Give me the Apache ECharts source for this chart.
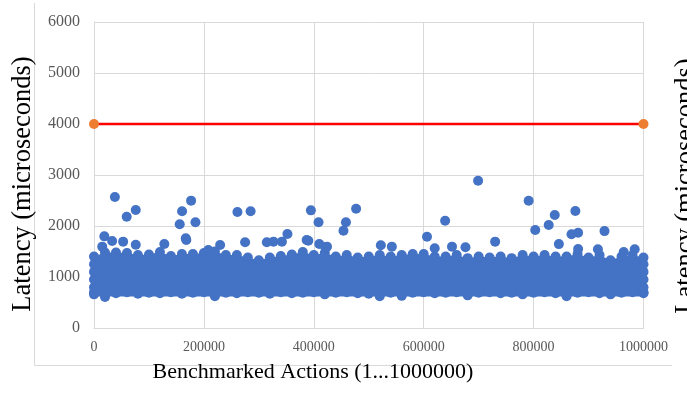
<!DOCTYPE html>
<html>
<head>
<meta charset="utf-8">
<script src="https://cdn.jsdelivr.net/npm/echarts@6/dist/echarts.min.js"></script>
<style>
  html, body { margin: 0; padding: 0; background: #fff; }
  #chart { width: 687px; height: 395px; }
</style>
</head>
<body>
<div id="chart"></div>
<script>
// x positions of the dense band outline (benchmarked action index)
const bandX = [
  0, 20000, 40000, 60000, 80000, 100000, 120000, 140000, 160000, 180000,
  200000, 220000, 240000, 260000, 280000, 300000, 320000, 340000, 360000, 380000,
  400000, 420000, 440000, 460000, 480000, 500000, 520000, 540000, 560000, 580000,
  600000, 620000, 640000, 660000, 680000, 700000, 720000, 740000, 760000, 780000,
  800000, 820000, 840000, 860000, 880000, 900000, 920000, 940000, 960000, 980000,
  1000000
];
// upper edge of the dense cloud (microseconds)
const bandTop = [
  1400, 1480, 1480, 1470, 1430, 1440, 1490, 1410, 1450, 1450,
  1470, 1500, 1430, 1430, 1380, 1330, 1380, 1410, 1440, 1490,
  1430, 1470, 1400, 1430, 1380, 1400, 1430, 1400, 1430, 1450,
  1450, 1400, 1400, 1430, 1370, 1400, 1380, 1400, 1370, 1430,
  1400, 1430, 1400, 1400, 1450, 1380, 1430, 1330, 1400, 1430,
  1380
];
// lower edge of the dense cloud (microseconds)
const bandBottom = [
  660, 610, 680, 700, 670, 690, 680, 700, 670, 690,
  700, 625, 690, 680, 700, 690, 670, 700, 680, 690,
  700, 660, 690, 700, 680, 670, 625, 690, 630, 690,
  700, 680, 690, 700, 640, 690, 700, 680, 690, 660,
  690, 700, 680, 625, 690, 700, 680, 660, 690, 700,
  680
];
// floor of the solid part of the cloud
const bandFloor = 620;
// points at the two ends of the run
const endColumn = [700, 800, 950, 1100, 1250];

// isolated slow actions above the cloud
const outlierX = [
  38000, 59500, 76000, 176700, 160300, 156000, 184600, 167000, 168000, 261000,
  285000, 18800, 33000, 53000, 76000, 15000, 128000, 275000, 314500, 326600,
  342000, 229500, 352000, 394700, 408600, 390000, 410000, 421000, 477000, 458500,
  454000, 522000, 542000, 606000, 620000, 639000, 651500, 676000, 699000, 791000,
  838500, 827500, 803000, 876000, 869000, 881000, 929000, 846000, 730000, 917000,
  984000, 964000, 881000, 208000, 387000, 424000
];
const outlierY = [
  2570, 2183, 2314, 2497, 2288, 2033, 2072, 1758, 1725, 2275,
  2288, 1797, 1706, 1693, 1634, 1595, 1647, 1680, 1680, 1693,
  1693, 1627, 1843, 2307, 2072, 1712, 1647, 1582, 2339, 2072,
  1908, 1621, 1595, 1790, 1562, 2104, 1595, 1582, 2888, 2496,
  2216, 2020, 1922, 2294, 1837, 1869, 1900, 1645, 1693, 1543,
  1543, 1490, 1550, 1530, 1725, 1595
];

// threshold line
const limitX = [0, 1000000];
const limitY = [4000, 4000];

const xTicks = { min: 0, max: 1000000, interval: 200000 };
const yTicks = { min: 0, max: 6000, interval: 1000 };

const serif = "'Liberation Serif', 'Times New Roman', serif";
const blue = "#4472c4";
const gridColor = "#d9d9d9";

const topPts = bandX.map((x, i) => [x, bandTop[i]]);
const bottomPts = bandX.map((x, i) => [x, bandBottom[i]]);
const endPts = endColumn.flatMap((v) => [[0, v], [1000000, v]]);
const outlierPts = outlierX.map((x, i) => [x, outlierY[i]]);

const chart = echarts.init(document.getElementById("chart"));

chart.setOption({
  animation: false,
  grid: { left: 94, right: 43.5, top: 22, bottom: 67 },
  xAxis: {
    type: "value",
    min: xTicks.min,
    max: xTicks.max,
    interval: xTicks.interval,
    axisLine: { lineStyle: { color: gridColor, width: 1 } },
    axisTick: { show: false },
    axisLabel: {
      fontFamily: serif, fontSize: 14, color: "#595959", margin: 12,
      formatter: (v) => String(v),
    },
    splitLine: { show: true, lineStyle: { color: gridColor, width: 1 } },
  },
  yAxis: {
    type: "value",
    min: yTicks.min,
    max: yTicks.max,
    interval: yTicks.interval,
    axisLine: { show: true, lineStyle: { color: gridColor, width: 1 } },
    axisTick: { show: false },
    axisLabel: {
      fontFamily: serif, fontSize: 16, color: "#595959", margin: 14,
      formatter: (v) => String(v),
    },
    splitLine: { lineStyle: { color: gridColor, width: 1 } },
  },
  graphic: [
    {
      // chart-area frame, left and bottom edges visible in the crop
      type: "polyline",
      shape: { points: [[34.5, 3], [34.5, 365.5], [672, 365.5]] },
      style: { fill: "none", stroke: gridColor, lineWidth: 1 },
      silent: true,
      z: 0,
    },
    {
      type: "text",
      x: 23,
      y: 184,
      rotation: Math.PI / 2,
      style: {
        text: "Latency (microseconds)",
        font: "26.5px " + serif,
        fill: "#000",
        align: "center",
        verticalAlign: "middle",
      },
      silent: true,
    },
    {
      type: "text",
      x: 313,
      y: 372,
      style: {
        text: "Benchmarked Actions (1...1000000)",
        font: "22px " + serif,
        fill: "#000",
        align: "center",
        verticalAlign: "middle",
      },
      silent: true,
    },
    {
      // neighbouring chart's axis title, cut by the right edge
      type: "text",
      x: 686,
      y: 186,
      rotation: Math.PI / 2,
      style: {
        text: "Latency (microseconds)",
        font: "26.5px " + serif,
        fill: "#000",
        align: "center",
        verticalAlign: "middle",
      },
      silent: true,
    },
  ],
  series: [
    {
      name: "cloud",
      type: "line",
      data: topPts,
      symbol: "none",
      lineStyle: { width: 0, opacity: 0 },
      areaStyle: { color: blue, opacity: 1, origin: bandFloor },
      silent: true,
      z: 2,
    },
    {
      name: "cloudEdge",
      type: "scatter",
      symbolSize: 10,
      itemStyle: { color: blue, opacity: 1 },
      data: topPts.concat(bottomPts, endPts),
      silent: true,
      z: 3,
    },
    {
      name: "outliers",
      type: "scatter",
      symbolSize: 10,
      itemStyle: { color: blue, opacity: 1 },
      data: outlierPts,
      z: 3,
    },
    {
      name: "limit",
      type: "line",
      data: limitX.map((x, i) => [x, limitY[i]]),
      symbol: "circle",
      symbolSize: 10,
      showSymbol: true,
      lineStyle: { color: "#ff0000", width: 2.5 },
      itemStyle: { color: "#ed7d31" },
      z: 4,
    },
  ],
});
</script>
</body>
</html>
